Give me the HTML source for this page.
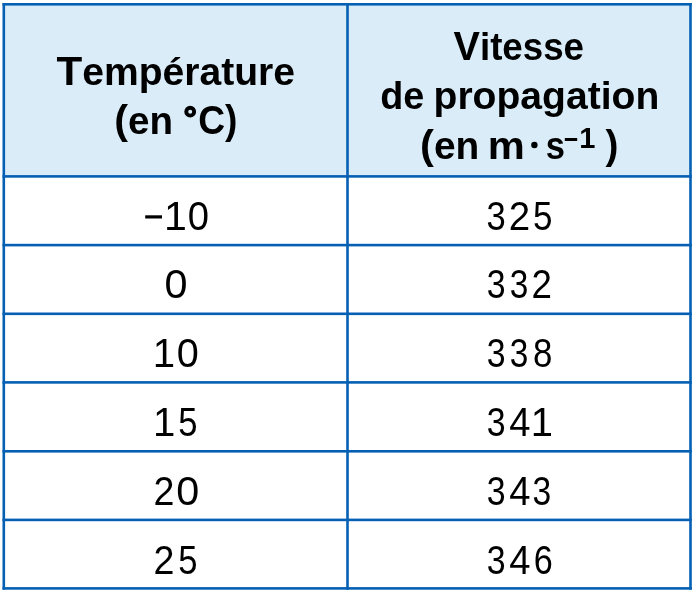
<!DOCTYPE html>
<html><head><meta charset="utf-8"><style>
html,body{margin:0;padding:0;background:#fff;width:694px;height:593px;overflow:hidden}
svg{display:block;will-change:transform;font-family:"Liberation Sans",sans-serif}
</style></head><body>
<svg width="694" height="593" viewBox="0 0 694 593">
<rect x="3.8" y="4.3" width="686.7" height="172.1" fill="#d9ecf8"/>
<rect x="2.5" y="3.0" width="689.3000000000001" height="2.6" fill="#0560b4"/>
<rect x="2.5" y="175.1" width="689.3000000000001" height="2.6" fill="#0560b4"/>
<rect x="2.5" y="243.79999999999998" width="689.3000000000001" height="2.6" fill="#0560b4"/>
<rect x="2.5" y="312.5" width="689.3000000000001" height="2.6" fill="#0560b4"/>
<rect x="2.5" y="381.09999999999997" width="689.3000000000001" height="2.6" fill="#0560b4"/>
<rect x="2.5" y="450.0" width="689.3000000000001" height="2.6" fill="#0560b4"/>
<rect x="2.5" y="518.6" width="689.3000000000001" height="2.6" fill="#0560b4"/>
<rect x="2.5" y="587.1" width="689.3000000000001" height="2.6" fill="#0560b4"/>
<rect x="2.5" y="3.0" width="2.6" height="586.7" fill="#0560b4"/>
<rect x="346.2" y="3.0" width="2.6" height="586.7" fill="#0560b4"/>
<rect x="689.2" y="3.0" width="2.6" height="586.7" fill="#0560b4"/>
<circle cx="534.4" cy="145" r="3.2" fill="#000"/>
<rect x="564.8" y="138" width="12.4" height="3" fill="#000"/>
<rect x="145.2" y="215.3" width="16.8" height="3.2" fill="#000"/>
<circle cx="190.2" cy="111.7" r="3.95" fill="none" stroke="#000" stroke-width="3.9"/>
<text transform="translate(175.80,84.50) scale(1.0280,1)" x="0" y="0" font-size="38.00" font-weight="bold" text-anchor="middle" fill="#000000"><tspan font-size="41">T</tspan>empérature</text>
<text transform="translate(143.67,133.60) scale(1.0144,1)" x="0" y="0" font-size="38.00" font-weight="bold" text-anchor="middle" fill="#000000"><tspan font-size="40.8">(</tspan>en</text>
<text transform="translate(217.84,133.60) scale(0.9070,1)" x="0" y="0" font-size="41.00" font-weight="bold" text-anchor="middle" fill="#000000">C)</text>
<text transform="translate(518.77,60.00) scale(0.9659,1)" x="0" y="0" font-size="38.00" font-weight="bold" text-anchor="middle" fill="#000000"><tspan font-size="41">V</tspan>itesse</text>
<text transform="translate(402.34,109.20) scale(0.9930,1)" x="0" y="0" font-size="38.00" font-weight="bold" text-anchor="middle" fill="#000000">de</text>
<text transform="translate(546.38,109.20) scale(1.0287,1)" x="0" y="0" font-size="38.00" font-weight="bold" text-anchor="middle" fill="#000000">propagation</text>
<text transform="translate(449.66,158.80) scale(1.0226,1)" x="0" y="0" font-size="38.00" font-weight="bold" text-anchor="middle" fill="#000000"><tspan font-size="40.8">(</tspan>en</text>
<text transform="translate(506.29,158.80) scale(1.0975,1)" x="0" y="0" font-size="38.00" font-weight="bold" text-anchor="middle" fill="#000000">m</text>
<text transform="translate(555.29,158.80) scale(0.9094,1)" x="0" y="0" font-size="38.00" font-weight="bold" text-anchor="middle" fill="#000000">s</text>
<text transform="translate(587.22,148.20) scale(1.0090,1)" x="0" y="0" font-size="28.80" font-weight="bold" text-anchor="middle" fill="#000000">1</text>
<text transform="translate(612.00,158.80) scale(0.9508,1)" x="0" y="0" font-size="40.80" font-weight="bold" text-anchor="middle" fill="#000000">)</text>
<text transform="translate(175.40,229.60) scale(1.0275,1)" x="0" y="0" font-size="40.00" font-weight="normal" text-anchor="middle" fill="#000000">1</text>
<text transform="translate(198.44,229.60) scale(0.9556,1)" x="0" y="0" font-size="40.00" font-weight="normal" text-anchor="middle" fill="#000000">0</text>
<text transform="translate(496.19,229.60) scale(0.8648,1)" x="0" y="0" font-size="40.00" font-weight="normal" text-anchor="middle" fill="#000000">3</text>
<text transform="translate(519.36,229.60) scale(0.9617,1)" x="0" y="0" font-size="40.00" font-weight="normal" text-anchor="middle" fill="#000000">2</text>
<text transform="translate(542.68,229.60) scale(0.8751,1)" x="0" y="0" font-size="40.00" font-weight="normal" text-anchor="middle" fill="#000000">5</text>
<text transform="translate(176.07,298.40) scale(1.0346,1)" x="0" y="0" font-size="40.00" font-weight="normal" text-anchor="middle" fill="#000000">0</text>
<text transform="translate(496.27,298.40) scale(0.8463,1)" x="0" y="0" font-size="40.00" font-weight="normal" text-anchor="middle" fill="#000000">3</text>
<text transform="translate(519.10,298.40) scale(0.8346,1)" x="0" y="0" font-size="40.00" font-weight="normal" text-anchor="middle" fill="#000000">3</text>
<text transform="translate(541.80,298.40) scale(0.9183,1)" x="0" y="0" font-size="40.00" font-weight="normal" text-anchor="middle" fill="#000000">2</text>
<text transform="translate(163.88,367.10) scale(1.0045,1)" x="0" y="0" font-size="40.00" font-weight="normal" text-anchor="middle" fill="#000000">1</text>
<text transform="translate(187.75,367.10) scale(0.9912,1)" x="0" y="0" font-size="40.00" font-weight="normal" text-anchor="middle" fill="#000000">0</text>
<text transform="translate(496.27,367.10) scale(0.8463,1)" x="0" y="0" font-size="40.00" font-weight="normal" text-anchor="middle" fill="#000000">3</text>
<text transform="translate(519.10,367.10) scale(0.8346,1)" x="0" y="0" font-size="40.00" font-weight="normal" text-anchor="middle" fill="#000000">3</text>
<text transform="translate(542.59,367.10) scale(0.8707,1)" x="0" y="0" font-size="40.00" font-weight="normal" text-anchor="middle" fill="#000000">8</text>
<text transform="translate(164.07,436.10) scale(1.0035,1)" x="0" y="0" font-size="40.00" font-weight="normal" text-anchor="middle" fill="#000000">1</text>
<text transform="translate(187.74,436.10) scale(0.8640,1)" x="0" y="0" font-size="40.00" font-weight="normal" text-anchor="middle" fill="#000000">5</text>
<text transform="translate(496.27,436.10) scale(0.8463,1)" x="0" y="0" font-size="40.00" font-weight="normal" text-anchor="middle" fill="#000000">3</text>
<text transform="translate(519.92,436.10) scale(0.9538,1)" x="0" y="0" font-size="40.00" font-weight="normal" text-anchor="middle" fill="#000000">4</text>
<text transform="translate(541.86,436.10) scale(0.9987,1)" x="0" y="0" font-size="40.00" font-weight="normal" text-anchor="middle" fill="#000000">1</text>
<text transform="translate(164.07,504.70) scale(0.9407,1)" x="0" y="0" font-size="40.00" font-weight="normal" text-anchor="middle" fill="#000000">2</text>
<text transform="translate(187.65,504.70) scale(1.0333,1)" x="0" y="0" font-size="40.00" font-weight="normal" text-anchor="middle" fill="#000000">0</text>
<text transform="translate(496.27,504.70) scale(0.8463,1)" x="0" y="0" font-size="40.00" font-weight="normal" text-anchor="middle" fill="#000000">3</text>
<text transform="translate(519.92,504.70) scale(0.9538,1)" x="0" y="0" font-size="40.00" font-weight="normal" text-anchor="middle" fill="#000000">4</text>
<text transform="translate(541.80,504.70) scale(0.8410,1)" x="0" y="0" font-size="40.00" font-weight="normal" text-anchor="middle" fill="#000000">3</text>
<text transform="translate(164.07,573.60) scale(0.9407,1)" x="0" y="0" font-size="40.00" font-weight="normal" text-anchor="middle" fill="#000000">2</text>
<text transform="translate(187.74,573.60) scale(0.8640,1)" x="0" y="0" font-size="40.00" font-weight="normal" text-anchor="middle" fill="#000000">5</text>
<text transform="translate(496.27,573.60) scale(0.8463,1)" x="0" y="0" font-size="40.00" font-weight="normal" text-anchor="middle" fill="#000000">3</text>
<text transform="translate(519.92,573.60) scale(0.9538,1)" x="0" y="0" font-size="40.00" font-weight="normal" text-anchor="middle" fill="#000000">4</text>
<text transform="translate(543.15,573.60) scale(0.8553,1)" x="0" y="0" font-size="40.00" font-weight="normal" text-anchor="middle" fill="#000000">6</text>
</svg>
</body></html>
